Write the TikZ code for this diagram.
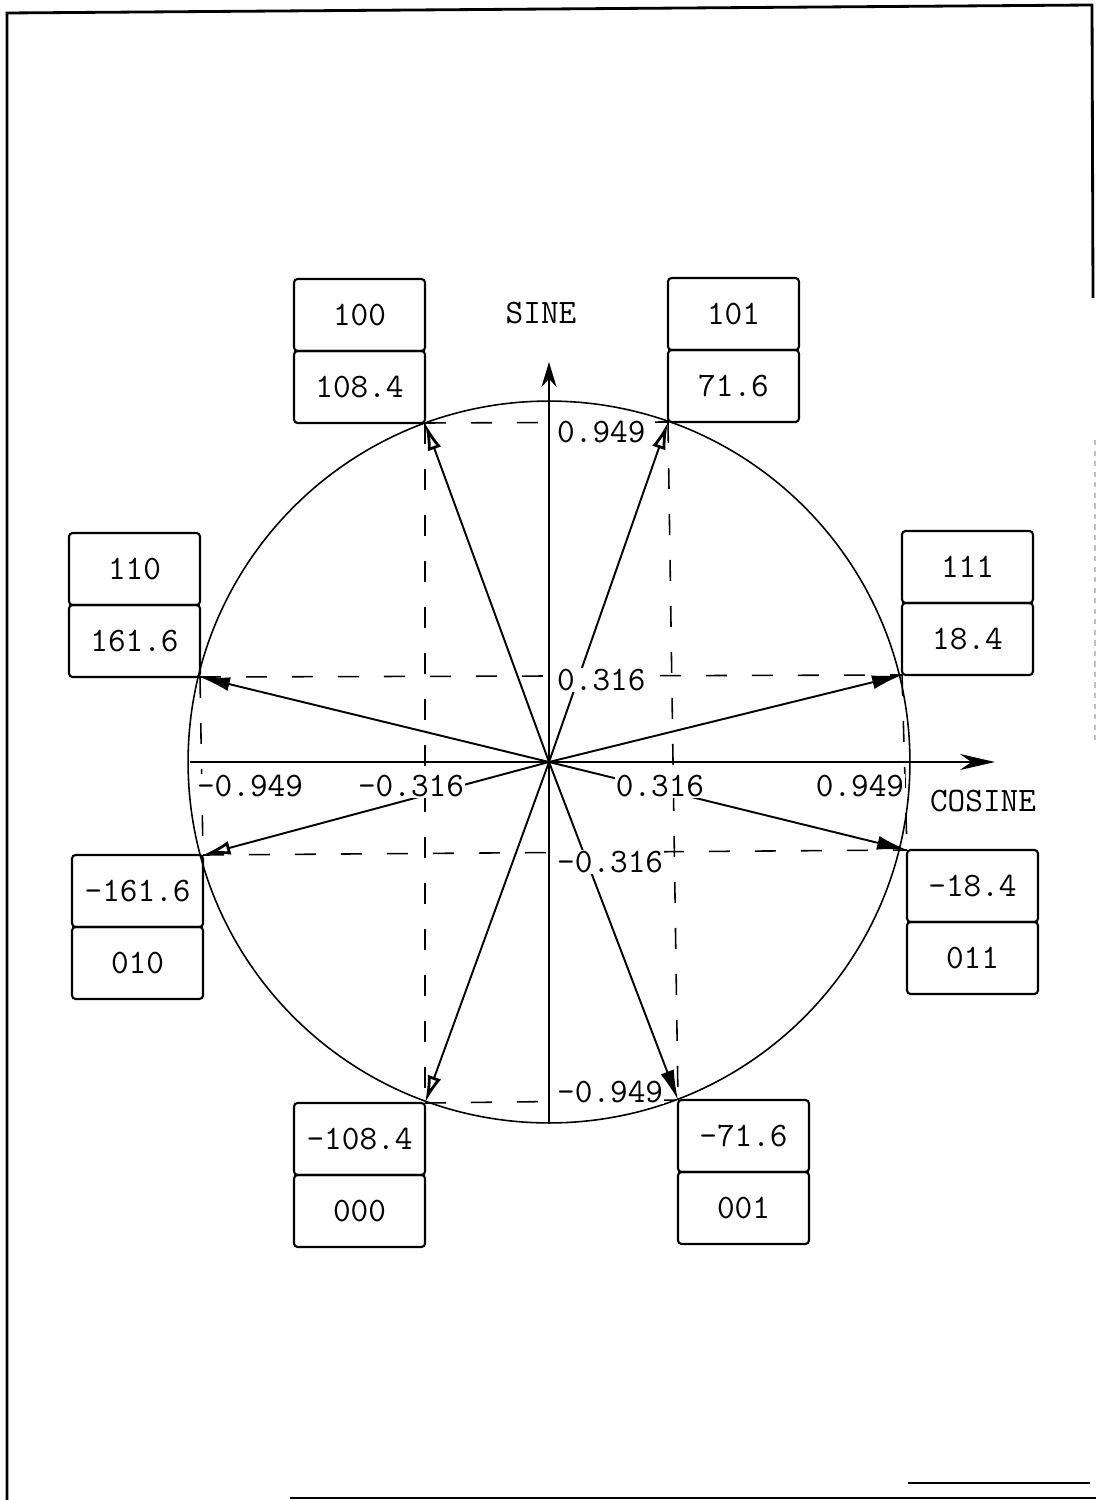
\documentclass[tikz,border=0pt]{standalone}
\usepackage{tikz}
\usetikzlibrary{positioning,arrows.meta}

\begin{document}
\begin{tikzpicture}[x=0.02cm,y=-0.02cm,font=\fontsize{19.5}{22}\selectfont\ttfamily,
  box/.style={draw,line width=1.2pt,rounded corners=2pt,outer sep=0pt,inner sep=0pt,minimum width=2.62cm,minimum height=1.44cm},
  vec/.style={line width=1.1pt},
  guide/.style={line width=0.9pt,dash pattern=on 0.42cm off 0.5cm},
  val/.style={fill=white,inner sep=0.5pt},
  hollow/.style={-{Latex[open,length=0.55cm,width=0.28cm,line width=1.6pt]}},
  solid/.style={-{Latex[length=0.6cm,width=0.28cm]}}]
\useasboundingbox (0,0) rectangle (1096,1500);
% frame
\draw[line width=1.6pt] (7,1500) -- (7,13) -- (1092,5) -- (1093,298);
\draw[line width=0.6pt,gray!50,dashed] (1095,440) -- (1095,740);
\draw[line width=1.6pt] (290,1498) -- (1096,1498);
\draw[line width=1.2pt] (908,1483) -- (1090,1483);
% points
\coordinate (O) at (549,762);
\coordinate (p1) at (425,423);
\coordinate (p2) at (668,422);
\coordinate (p3) at (200,677);
\coordinate (p4) at (902,675);
\coordinate (p5) at (203,855);
\coordinate (p6) at (907,850);
\coordinate (p7) at (425,1103);
\coordinate (p8) at (678,1100);
\coordinate (xl) at (190,762);
\coordinate (xr) at (995,762);
\coordinate (yb) at (549,1124);
\coordinate (yt) at (549,362);
\draw[line width=0.9pt] (O) circle[radius=7.22cm];
% guides
\draw[guide] (p1) -- (p2);
\draw[guide] (p3) -- (p4);
\draw[guide] (p5) -- (p6);
\draw[guide] (p7) -- (p8);
\draw[guide] (p1) -- (p7);
\draw[guide] (p2) -- (p8);
\draw[guide] (p3) -- (p5);
\draw[guide] (p4) -- (p6);
% axes
\draw[vec,-{Stealth[length=0.7cm,width=0.32cm]}] (xl) -- (xr);
\draw[vec,-{Stealth[length=0.5cm,width=0.3cm]}] (yb) -- (yt);
\node (sine) at (541,313) {SINE};
\node (cosine) at (983,801) {COSINE};
% vectors
\draw[vec,hollow] (O) -- (p1);
\draw[vec,hollow] (O) -- (p2);
\draw[vec,solid] (O) -- (p3);
\draw[vec,solid] (O) -- (p4);
\draw[vec,hollow] (O) -- (p5);
\draw[vec,solid] (O) -- (p6);
\draw[vec,hollow] (O) -- (p7);
\draw[vec,solid] (O) -- (p8);
% values
\node[val,anchor=west] (s1) at (556,432) {0.949};
\node[val,anchor=west] (s2) at (556,680) {0.316};
\node[val,anchor=west] (s3) at (556,862) {-0.316};
\node[val,anchor=west] (s4) at (556,1092) {-0.949};
\node[val] (h1) at (250,786) {-0.949};
\node[val] (h2) at (411,786) {-0.316};
\node[val] (h3) at (660,786) {0.316};
\node[val] (h4) at (860,786) {0.949};
% boxes
\node[box,anchor=south east] (a1) at (p1) {108.4};
\node[box,above=0pt of a1] (c1) {100};
\node[box,anchor=south west] (a2) at (p2) {71.6};
\node[box,above=0pt of a2] (c2) {101};
\node[box,anchor=south east] (a3) at (p3) {161.6};
\node[box,above=0pt of a3] (c3) {110};
\node[box,anchor=south west] (a4) at (p4) {18.4};
\node[box,above=0pt of a4] (c4) {111};
\node[box,anchor=north east] (a5) at (p5) {-161.6};
\node[box,below=0pt of a5] (c5) {010};
\node[box,anchor=north west] (a6) at (p6) {-18.4};
\node[box,below=0pt of a6] (c6) {011};
\node[box,anchor=north east] (a7) at (p7) {-108.4};
\node[box,below=0pt of a7] (c7) {000};
\node[box,anchor=north west] (a8) at (p8) {-71.6};
\node[box,below=0pt of a8] (c8) {001};
\end{tikzpicture}
\end{document}
